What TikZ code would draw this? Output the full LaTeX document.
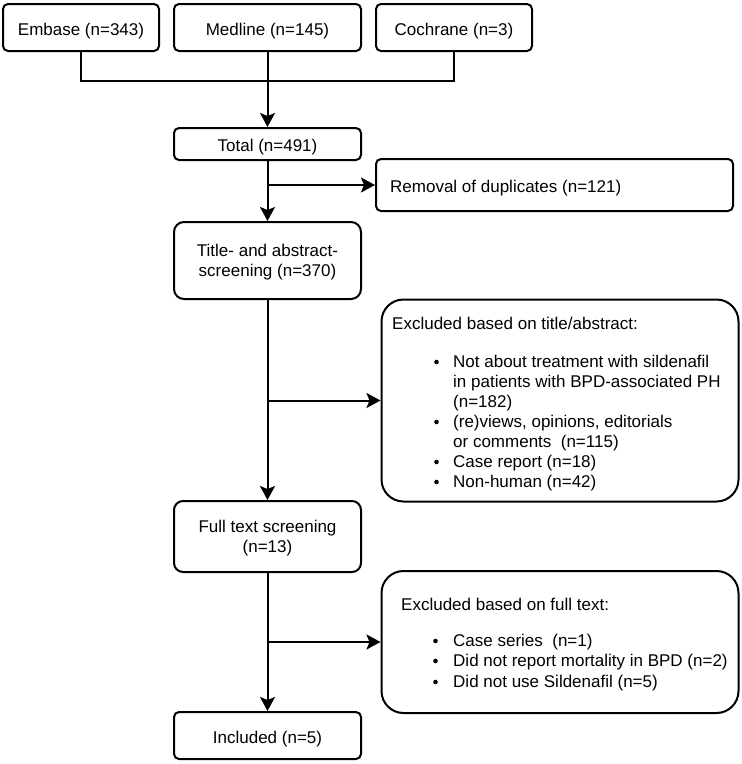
\documentclass[tikz,border=0pt]{standalone}
\usepackage{fontspec}
\setmainfont{Liberation Sans}
\usetikzlibrary{arrows.meta}
\tikzset{
  box/.style={draw, line width=2pt, rounded corners=#1, inner sep=0pt, align=center,
    text depth=0pt, font=\fontsize{17}{20}\selectfont},
  box/.default=5pt,
  one/.style={text height=15pt},
  txt/.style={inner sep=0pt, anchor=west, text height=12pt, text depth=0pt,
    font=\fontsize{17}{20}\selectfont},
  conn/.style={line width=2pt},
  arr/.style={line width=2pt, -{Stealth[length=14pt,width=15pt,inset=3pt]}},
  dot/.style={fill=black}
}
\begin{document}
\begin{tikzpicture}[x=1pt,y=-1pt]
\useasboundingbox (0,0) rectangle (742,764);
% top row
\node[box, one, minimum width=156pt, minimum height=47pt] (embase) at (81,27.5) {Embase (n=343)};
\node[box, one, minimum width=187pt, minimum height=47pt] (medline) at (267.5,27.5) {Medline (n=145)};
\node[box, one, minimum width=156pt, minimum height=47pt] (coch) at (454,27.5) {Cochrane (n=3)};
% main column
\node[box, one, minimum width=187pt, minimum height=32pt] (total) at (267.5,144) {Total (n=491)};
\node[box=10pt, minimum width=187pt, minimum height=77pt] (title) at (267.5,260.5) {Title- and abstract-\\screening (n=370)};
\node[box=9pt, minimum width=187pt, minimum height=71pt] (full) at (267.5,536.5) {Full text screening\\(n=13)};
\node[box, one, minimum width=187pt, minimum height=47pt] (incl) at (267.5,735.5) {Included (n=5)};
% side boxes
\node[box, minimum width=357pt, minimum height=52pt] (removal) at (554.5,185) {};
\node[txt] (removaltxt) at (390,186) {Removal of duplicates (n=121)};
\node[box=22pt, minimum width=357pt, minimum height=202pt] (excl1) at (560,400.5) {};
\node[box=22pt, minimum width=357pt, minimum height=142pt] (excl2) at (560,642) {};
% excl1 text
\node[txt] (e1t) at (392,323) {Excluded based on title/abstract:};
\node[txt] (e1a) at (453,361) {Not about treatment with sildenafil};
\node[txt] (e1b) at (453,381) {in patients with BPD-associated PH};
\node[txt] (e1c) at (453,401) {(n=182)};
\node[txt] (e1d) at (453,421) {(re)views, opinions, editorials};
\node[txt] (e1e) at (453,441) {or comments\ \ (n=115)};
\node[txt] (e1f) at (453,461) {Case report (n=18)};
\node[txt] (e1g) at (453,481) {Non-human (n=42)};
\foreach \y in {361,421,461,481} \fill[dot] (436.5,\y+1) circle (2.3pt);
% excl2 text
\node[txt] (e2t) at (401,604) {Excluded based on full text:};
\node[txt] (e2a) at (453,640) {Case series\ \ (n=1)};
\node[txt] (e2b) at (453,660) {Did not report mortality in BPD (n=2)};
\node[txt] (e2c) at (453,681) {Did not use Sildenafil (n=5)};
\foreach \y in {640,660,681} \fill[dot] (435.5,\y+1) circle (2.3pt);
% connectors
\coordinate (j) at (267.5,81);
\draw[conn] (embase.south) |- (j) -| (coch.south);
\draw[arr] (medline.south) -- (total.north);
\draw[arr] (total.south) -- (title.north);
\draw[arr] (total.south |- removal.west) -- (removal.west);
\draw[arr] (title.south) -- (full.north);
\draw[arr] (title.south |- excl1.west) -- (excl1.west);
\draw[arr] (full.south) -- (incl.north);
\draw[arr] (full.south |- excl2.west) -- (excl2.west);
\end{tikzpicture}
\end{document}
